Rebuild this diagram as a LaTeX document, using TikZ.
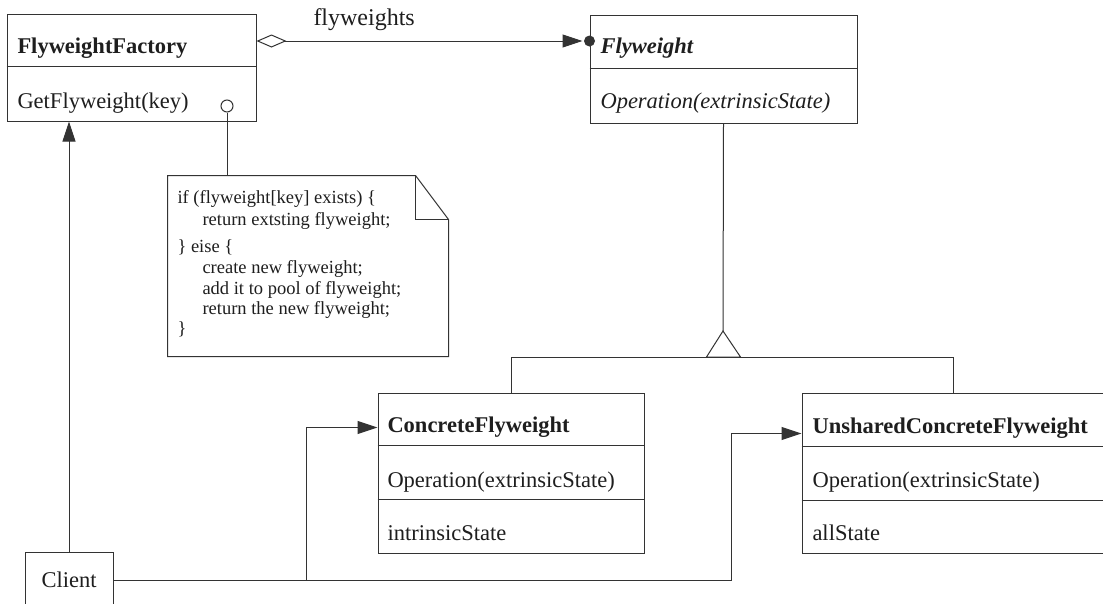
\documentclass[tikz,border=0pt]{standalone}
\usepackage{fontspec}
\setmainfont{Liberation Serif}
\usetikzlibrary{arrows.meta,calc}
\definecolor{ink}{HTML}{333333}
\definecolor{txt}{HTML}{1E1E1E}
\begin{document}
\begin{tikzpicture}[x=1pt,y=-1pt,line width=1pt,draw=ink,
  box/.style={draw=ink,rectangle,inner sep=0pt},
  cls/.style={anchor=base west,inner sep=0pt,text=txt,font=\fontsize{22.5}{27}\selectfont},
  memo/.style={anchor=base west,inner sep=0pt,text=txt,font=\fontsize{18.5}{21}\selectfont},
  arr/.style={-{Triangle[length=20pt,width=13pt]}}]
\useasboundingbox (0,0) rectangle (1103,603);
\fill[white] (0,0) rectangle (1103,603);
\clip (0,0) rectangle (1103,603);

% class boxes
\node[box,minimum width=249,minimum height=107] (ff)  at (131.5,67.5) {};
\node[box,minimum width=267,minimum height=108] (fw)  at (723.5,69) {};
\node[box,minimum width=266,minimum height=160] (cf)  at (511,473) {};
\node[box,minimum width=302,minimum height=160] (ucf) at (953,473) {};
\node[box,minimum width=88,minimum height=56,text=txt,font=\fontsize{22.5}{27}\selectfont] (client) at (69,580) {Client};

% compartment dividers
\draw ($(ff.north west)+(0,53)$) -- ($(ff.north east)+(0,53)$);
\draw ($(fw.north west)+(0,54)$) -- ($(fw.north east)+(0,54)$);
\draw ($(cf.north west)+(0,53)$) -- ($(cf.north east)+(0,53)$);
\draw ($(cf.north west)+(0,107)$) -- ($(cf.north east)+(0,107)$);
\draw ($(ucf.north west)+(0,54)$) -- ($(ucf.north east)+(0,54)$);
\draw ($(ucf.north west)+(0,108)$) -- ($(ucf.north east)+(0,108)$);

% class texts
\node[cls] (ffname) at (17,53) {\textbf{FlyweightFactory}};
\node[cls] (ffop)   at (17,108) {GetFlyweight(key)};
\node[cls] (fwname) at (600,53) {\textbf{\textit{Flyweight}}};
\node[cls] (fwop)   at (600,108) {\textit{Operation(extrinsicState)}};
\node[cls] (cfname) at (387,432) {\textbf{ConcreteFlyweight}};
\node[cls] (cfop)   at (387,487) {Operation(extrinsicState)};
\node[cls] (cfst)   at (387,540) {intrinsicState};
\node[cls] (uname)  at (812,433) {\textbf{UnsharedConcreteFlyweight}};
\node[cls] (uop)    at (812,487) {Operation(extrinsicState)};
\node[cls] (ust)    at (812,540) {allState};

% aggregation: factory holds flyweights
\draw[{Diamond[open,length=30pt,width=13pt]}-{Triangle[length=20pt,width=13pt]},shorten >=7pt]
  ($(ff.north east)+(0,27.5)$) -- ($(fw.north west)+(0,26.5)$);
\fill[ink] ($(fw.north west)+(0,26.5)$) circle (5.5);
\node[anchor=base west,inner sep=0pt,text=txt,font=\fontsize{24}{28}\selectfont] (aggl) at (313,25) {flyweights};

% note attached to GetFlyweight
\node[minimum width=280,minimum height=180,inner sep=0pt] (note) at (308,266) {};
\node[circle,draw=ink,fill=white,minimum size=12pt,inner sep=0pt] (lolli) at (227,106) {};
\draw (lolli.south) -- (lolli.south |- note.north);
\draw (note.north west) -- ($(note.north east)+(-33,0)$) -- ($(note.north east)+(0,44)$)
  -- (note.south east) -- (note.south west) -- cycle;
\draw ($(note.north east)+(-33,0)$) -- ($(note.north east)+(-33,44)$) -- ($(note.north east)+(0,44)$);
\node[memo] (m1) at (177,203) {if (flyweight[key] exists) \{};
\node[memo] (m2) at (202,225) {return extsting flyweight;};
\node[memo] (m3) at (177,252.5) {\} eise \{};
\node[memo] (m4) at (202,273.5) {create new flyweight;};
\node[memo] (m5) at (202,294) {add it to pool of flyweight;};
\node[memo] (m6) at (202,314) {return the new flyweight;};
\node[memo] (m7) at (177,334.5) {\}};

% generalization
\draw (fw.south) -- (723,331);
\draw (723,331) -- (706.5,357) -- (740.5,357) -- cycle;
\draw (cf.north) -- (cf.north |- 0,357) -- (ucf.north |- 0,357) -- (ucf.north);

% client references
\draw[arr] (client.north) -- (client.north |- ff.south);
\draw[arr] (client.east) -| ($(cf.north west)+(-71,35)$) -- ($(cf.north west)+(0,35)$);
\draw[arr] (client.east) -| ($(ucf.north west)+(-70,41)$) -- ($(ucf.north west)+(0,41)$);
\end{tikzpicture}
\end{document}
